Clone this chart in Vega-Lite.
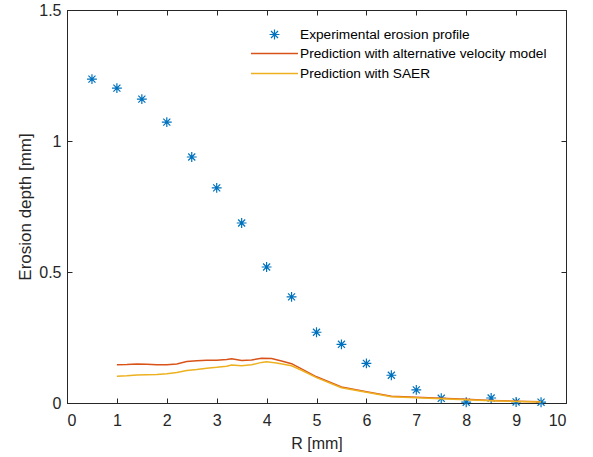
{
  "$schema": "https://vega.github.io/schema/vega-lite/v6.json",
  "width": 499,
  "height": 393,
  "autosize": {"type": "none"},
  "padding": {"left": 67, "top": 10, "right": 27, "bottom": 54},
  "background": "white",
  "config": {
    "font": "Liberation Sans",
    "view": {"stroke": "#262626", "strokeWidth": 1},
    "axis": {
      "grid": false,
      "domainColor": "#262626",
      "tickColor": "#262626",
      "labelColor": "#262626",
      "titleColor": "#262626",
      "labelFont": "Liberation Sans",
      "titleFont": "Liberation Sans",
      "labelFontSize": 16,
      "titleFontSize": 16,
      "titleFontWeight": "normal",
      "tickSize": -5,
      "labelPadding": 12
    },
    "legend": {
      "labelFont": "Liberation Sans",
      "labelFontSize": 13.7,
      "labelColor": "#000000",
      "labelLimit": 0,
      "labelOffset": 1,
      "symbolStrokeWidth": 1.5,
      "title": null
    }
  },
  "datasets": {
    "exp": [
      {"R": 0.5, "depth": 1.236, "series": "Experimental erosion profile"},
      {"R": 1.0, "depth": 1.202, "series": "Experimental erosion profile"},
      {"R": 1.5, "depth": 1.160, "series": "Experimental erosion profile"},
      {"R": 2.0, "depth": 1.072, "series": "Experimental erosion profile"},
      {"R": 2.5, "depth": 0.939, "series": "Experimental erosion profile"},
      {"R": 3.0, "depth": 0.821, "series": "Experimental erosion profile"},
      {"R": 3.5, "depth": 0.687, "series": "Experimental erosion profile"},
      {"R": 4.0, "depth": 0.519, "series": "Experimental erosion profile"},
      {"R": 4.5, "depth": 0.405, "series": "Experimental erosion profile"},
      {"R": 5.0, "depth": 0.270, "series": "Experimental erosion profile"},
      {"R": 5.5, "depth": 0.224, "series": "Experimental erosion profile"},
      {"R": 6.0, "depth": 0.151, "series": "Experimental erosion profile"},
      {"R": 6.5, "depth": 0.106, "series": "Experimental erosion profile"},
      {"R": 7.0, "depth": 0.050, "series": "Experimental erosion profile"},
      {"R": 7.5, "depth": 0.018, "series": "Experimental erosion profile"},
      {"R": 8.0, "depth": 0.003, "series": "Experimental erosion profile"},
      {"R": 8.5, "depth": 0.019, "series": "Experimental erosion profile"},
      {"R": 9.0, "depth": 0.004, "series": "Experimental erosion profile"},
      {"R": 9.5, "depth": 0.003, "series": "Experimental erosion profile"}
    ],
    "alt": [
      {"R": 1.0, "depth": 0.146, "series": "Prediction with alternative velocity model"},
      {"R": 1.2, "depth": 0.147, "series": "Prediction with alternative velocity model"},
      {"R": 1.4, "depth": 0.149, "series": "Prediction with alternative velocity model"},
      {"R": 1.6, "depth": 0.148, "series": "Prediction with alternative velocity model"},
      {"R": 1.8, "depth": 0.146, "series": "Prediction with alternative velocity model"},
      {"R": 2.0, "depth": 0.146, "series": "Prediction with alternative velocity model"},
      {"R": 2.2, "depth": 0.149, "series": "Prediction with alternative velocity model"},
      {"R": 2.4, "depth": 0.158, "series": "Prediction with alternative velocity model"},
      {"R": 2.6, "depth": 0.161, "series": "Prediction with alternative velocity model"},
      {"R": 2.8, "depth": 0.163, "series": "Prediction with alternative velocity model"},
      {"R": 3.0, "depth": 0.163, "series": "Prediction with alternative velocity model"},
      {"R": 3.2, "depth": 0.166, "series": "Prediction with alternative velocity model"},
      {"R": 3.3, "depth": 0.169, "series": "Prediction with alternative velocity model"},
      {"R": 3.5, "depth": 0.162, "series": "Prediction with alternative velocity model"},
      {"R": 3.7, "depth": 0.164, "series": "Prediction with alternative velocity model"},
      {"R": 3.9, "depth": 0.171, "series": "Prediction with alternative velocity model"},
      {"R": 4.1, "depth": 0.170, "series": "Prediction with alternative velocity model"},
      {"R": 4.3, "depth": 0.160, "series": "Prediction with alternative velocity model"},
      {"R": 4.5, "depth": 0.150, "series": "Prediction with alternative velocity model"},
      {"R": 4.7, "depth": 0.130, "series": "Prediction with alternative velocity model"},
      {"R": 5.0, "depth": 0.100, "series": "Prediction with alternative velocity model"},
      {"R": 5.5, "depth": 0.061, "series": "Prediction with alternative velocity model"},
      {"R": 6.0, "depth": 0.043, "series": "Prediction with alternative velocity model"},
      {"R": 6.5, "depth": 0.026, "series": "Prediction with alternative velocity model"},
      {"R": 7.0, "depth": 0.022, "series": "Prediction with alternative velocity model"},
      {"R": 7.5, "depth": 0.018, "series": "Prediction with alternative velocity model"},
      {"R": 8.0, "depth": 0.014, "series": "Prediction with alternative velocity model"},
      {"R": 8.5, "depth": 0.010, "series": "Prediction with alternative velocity model"},
      {"R": 9.0, "depth": 0.007, "series": "Prediction with alternative velocity model"},
      {"R": 9.5, "depth": 0.005, "series": "Prediction with alternative velocity model"}
    ],
    "saer": [
      {"R": 1.0, "depth": 0.102, "series": "Prediction with SAER"},
      {"R": 1.2, "depth": 0.104, "series": "Prediction with SAER"},
      {"R": 1.4, "depth": 0.107, "series": "Prediction with SAER"},
      {"R": 1.6, "depth": 0.108, "series": "Prediction with SAER"},
      {"R": 1.8, "depth": 0.109, "series": "Prediction with SAER"},
      {"R": 2.0, "depth": 0.112, "series": "Prediction with SAER"},
      {"R": 2.2, "depth": 0.116, "series": "Prediction with SAER"},
      {"R": 2.4, "depth": 0.124, "series": "Prediction with SAER"},
      {"R": 2.6, "depth": 0.128, "series": "Prediction with SAER"},
      {"R": 2.8, "depth": 0.133, "series": "Prediction with SAER"},
      {"R": 3.0, "depth": 0.136, "series": "Prediction with SAER"},
      {"R": 3.2, "depth": 0.140, "series": "Prediction with SAER"},
      {"R": 3.3, "depth": 0.145, "series": "Prediction with SAER"},
      {"R": 3.5, "depth": 0.142, "series": "Prediction with SAER"},
      {"R": 3.7, "depth": 0.146, "series": "Prediction with SAER"},
      {"R": 3.9, "depth": 0.155, "series": "Prediction with SAER"},
      {"R": 4.0, "depth": 0.157, "series": "Prediction with SAER"},
      {"R": 4.2, "depth": 0.153, "series": "Prediction with SAER"},
      {"R": 4.5, "depth": 0.142, "series": "Prediction with SAER"},
      {"R": 4.7, "depth": 0.125, "series": "Prediction with SAER"},
      {"R": 5.0, "depth": 0.097, "series": "Prediction with SAER"},
      {"R": 5.5, "depth": 0.058, "series": "Prediction with SAER"},
      {"R": 6.0, "depth": 0.041, "series": "Prediction with SAER"},
      {"R": 6.5, "depth": 0.024, "series": "Prediction with SAER"},
      {"R": 7.0, "depth": 0.020, "series": "Prediction with SAER"},
      {"R": 7.5, "depth": 0.016, "series": "Prediction with SAER"},
      {"R": 8.0, "depth": 0.012, "series": "Prediction with SAER"},
      {"R": 8.5, "depth": 0.009, "series": "Prediction with SAER"},
      {"R": 9.0, "depth": 0.006, "series": "Prediction with SAER"},
      {"R": 9.5, "depth": 0.004, "series": "Prediction with SAER"}
    ]
  },
  "resolve": {"axis": {"x": "independent", "y": "independent"}, "scale": {"color": "independent"}, "legend": {"color": "independent"}},
  "layer": [
    {
      "data": {"name": "exp"},
      "mark": {"type": "point", "filled": false, "size": 2209, "strokeWidth": 1.2, "color": "#0072BD", "opacity": 1},
      "encoding": {
        "x": {"field": "R", "type": "quantitative", "scale": {"domain": [0, 10], "nice": false},
              "axis": {"orient": "bottom", "title": "R [mm]", "values": [0,1,2,3,4,5,6,7,8,9,10], "labelPadding": 14, "titlePadding": 7}},
        "y": {"field": "depth", "type": "quantitative", "scale": {"domain": [0, 1.5], "nice": false},
              "axis": {"orient": "left", "title": "Erosion depth [mm]", "titleFontSize": 17, "values": [0, 0.5, 1, 1.5], "labelExpr": "datum.value", "labelPadding": 11, "titlePadding": 4}},
        "shape": {"field": "series", "type": "nominal",
                  "scale": {"domain": ["Experimental erosion profile"], "range": ["M-0.21,0L0.21,0M0,-0.21L0,0.21M-0.15,-0.15L0.15,0.15M-0.15,0.15L0.15,-0.15"]},
                  "legend": {"orient": "none", "legendX": 183, "legendY": 0, "symbolSize": 2209, "symbolStrokeColor": "#0072BD", "symbolStrokeWidth": 1.2}}
      }
    },
    {
      "data": {"name": "alt"},
      "mark": {"type": "line", "strokeWidth": 1.5},
      "encoding": {
        "x": {"field": "R", "type": "quantitative", "axis": null},
        "y": {"field": "depth", "type": "quantitative", "axis": null},
        "color": {"field": "series", "type": "nominal",
                  "scale": {"domain": ["Prediction with alternative velocity model"], "range": ["#D95319"]},
                  "legend": {"orient": "none", "legendX": 183, "legendY": 19, "symbolType": "stroke", "symbolSize": 2209}}
      }
    },
    {
      "data": {"name": "saer"},
      "mark": {"type": "line", "strokeWidth": 1.5},
      "encoding": {
        "x": {"field": "R", "type": "quantitative",
              "axis": {"orient": "top", "labels": false, "domain": false, "title": null, "values": [0,1,2,3,4,5,6,7,8,9,10]}},
        "y": {"field": "depth", "type": "quantitative",
              "axis": {"orient": "right", "labels": false, "domain": false, "title": null, "values": [0, 0.5, 1, 1.5]}},
        "color": {"field": "series", "type": "nominal",
                  "scale": {"domain": ["Prediction with SAER"], "range": ["#EDB120"]},
                  "legend": {"orient": "none", "legendX": 183, "legendY": 39, "symbolType": "stroke", "symbolSize": 2209}}
      }
    }
  ]
}
